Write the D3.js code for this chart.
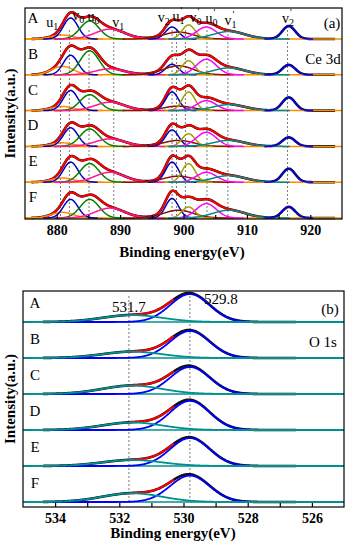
<!DOCTYPE html>
<html>
<head>
<meta charset="utf-8">
<script src="https://cdn.jsdelivr.net/npm/d3@7"></script>
<style>
  body { margin: 0; background: #fff; }
  svg { font-family: "Liberation Serif", "Times New Roman", serif; }
</style>
</head>
<body>
<div id="chart"></div>
<script>
// Samples shared by both panels
const samples = ["A", "B", "C", "D", "E", "F"];

// Ce 3d components: name, subscript, prime
const ceNames = ["u", "v", "u", "v", "v", "u", "v", "u", "v", "v"];
const ceSubs = ["1", "0", "0", "1", "2", "1", "0", "0", "1", "2"];
const cePrime = [false, false, false, false, false, true, true, true, true, true];
const ceLabelX = [879.3, 883.4, 885.8, 889.7, 896.9, 899.2, 901.9, 904.4, 907.4, 916.5];
const ceLabelDy = [0, -7, -6, 0, -5, -6, -5, -4, -2, -4];
const ceMarks = [880.6, 882.0, 885.1, 889.0, 898.2, 898.9, 900.3, 903.7, 907.0, 916.4];
const ceCenters = [880.9, 882.2, 885.2, 888.4, 898.2, 899.2, 900.8, 903.6, 907.2, 916.6];
const ceFwhm = [4.0, 2.7, 3.5, 5.5, 2.4, 5.5, 2.4, 3.7, 6.0, 2.4];
const ceColors = ["#ff8c00", "#0000c0", "#008000", "#ff1493", "#0000c0", "#8b1010",
                  "#a0a000", "#ff00ff", "#008b8b", "#0000ff"];
const ceHeights = {
  A: [0.13, 0.70, 0.60, 0.33, 0.40, 0.23, 0.47, 0.40, 0.25, 0.43],
  B: [0.28, 0.65, 0.80, 0.20, 0.35, 0.30, 0.47, 0.52, 0.23, 0.33],
  C: [0.14, 0.67, 0.53, 0.28, 0.62, 0.15, 0.62, 0.33, 0.20, 0.44],
  D: [0.12, 0.62, 0.58, 0.25, 0.55, 0.20, 0.42, 0.47, 0.20, 0.30],
  E: [0.14, 0.67, 0.62, 0.33, 0.67, 0.20, 0.62, 0.33, 0.22, 0.45],
  F: [0.19, 0.62, 0.62, 0.33, 0.65, 0.26, 0.37, 0.48, 0.26, 0.37]
};
const ceTicks = [880, 890, 900, 910, 920];

// O 1s components: lattice O, surface O
const oMarks = [531.7, 529.8];
const oCenters = [529.8, 531.6];
const oFwhm = [1.45, 2.2];
const oColors = ["#0000ff", "#009090"];
const oHeights = {
  A: [0.93, 0.23],
  B: [0.90, 0.21],
  C: [0.90, 0.28],
  D: [0.97, 0.25],
  E: [0.93, 0.20],
  F: [0.88, 0.29]
};
const oTicks = [534, 532, 530, 528, 526];

const W = 355, H = 550;
const svg = d3.select("#chart").append("svg").attr("width", W).attr("height", H);

const gauss = (x, c, w, h) => h * Math.exp(-4 * Math.LN2 * (x - c) * (x - c) / (w * w));

function drawPanel(cfg) {
  const x = d3.scaleLinear().domain(cfg.domain).range([cfg.left, cfg.right]);
  const row = d3.scalePoint().domain(samples).range(cfg.rows);
  const unit = 30;
  const g = svg.append("g");
  const lo = Math.min(...cfg.domain), hi = Math.max(...cfg.domain);

  // dashed guides
  cfg.marks.forEach(m => {
    g.append("line")
      .attr("x1", x(m)).attr("x2", x(m))
      .attr("y1", cfg.markTop).attr("y2", cfg.rows[1])
      .attr("stroke", "#555").attr("stroke-width", 0.8).attr("stroke-dasharray", "2,2");
  });

  samples.forEach(s => {
    const base = row(s);
    const y = d3.scaleLinear().domain([0, 1]).range([base, base - unit]);
    const hs = cfg.heights[s];
    const line = d3.line().x(d => x(d[0])).y(d => y(d[1]));
    const sumAt = v => d3.sum(cfg.centers, (c, i) => gauss(v, c, cfg.fwhm[i], hs[i]));
    const step = (hi - lo) / 600;

    // measured data (black)
    const dataX = d3.range(cfg.dataRange[0], cfg.dataRange[1], step);
    g.append("path").datum(dataX.map(v => [v, sumAt(v)]))
      .attr("d", line).attr("fill", "none").attr("stroke", "#111")
      .attr("stroke-width", 2.6);

    // baseline
    g.append("line").attr("x1", cfg.left).attr("x2", cfg.right)
      .attr("y1", base).attr("y2", base)
      .attr("stroke", cfg.baseColor).attr("stroke-width", 1.5);

    // fit envelope (red)
    cfg.redRanges.forEach(r => {
      const rx = d3.range(r[0], r[1], step);
      g.append("path").datum(rx.map(v => [v, sumAt(v)]))
        .attr("d", line).attr("fill", "none").attr("stroke", "#ff0000")
        .attr("stroke-width", 2);
    });

    // components
    cfg.centers.forEach((c, i) => {
      const a = Math.max(lo, c - cfg.fwhm[i] * cfg.span);
      const b = Math.min(hi, c + cfg.fwhm[i] * cfg.span);
      const cx = d3.range(a, b, step);
      g.append("path").datum(cx.map(v => [v, gauss(v, c, cfg.fwhm[i], hs[i])]))
        .attr("d", line).attr("fill", "none").attr("stroke", cfg.colors[i])
        .attr("stroke-width", cfg.compWidth);
    });

    g.append("text").attr("x", cfg.letterX).attr("y", base - cfg.letterUp)
      .attr("font-size", 15).attr("text-anchor", "middle").text(s);
  });

  // frame
  g.append("rect").attr("x", cfg.left).attr("y", cfg.top)
    .attr("width", cfg.right - cfg.left).attr("height", cfg.bottom - cfg.top)
    .attr("fill", "none").attr("stroke", "#000").attr("stroke-width", 1.2);

  // x axis, inward ticks
  const minor = d3.range(lo, hi + 1e-6, cfg.minorStep).filter(v => v > lo && v < hi);
  const ax = g.append("g").attr("transform", `translate(0,${cfg.bottom})`)
    .call(d3.axisBottom(x).tickValues(minor).tickSizeInner(-4).tickSizeOuter(0)
      .tickFormat(v => cfg.ticks.includes(v) ? v : ""));
  ax.select(".domain").remove();
  ax.selectAll("line").attr("stroke-width", 1.2);
  ax.selectAll("text").attr("font-family", "Liberation Serif").attr("font-weight", "bold")
    .attr("font-size", 14).attr("dy", "0.95em").attr("fill", "#000");

  g.append("text").attr("x", cfg.titleX).attr("y", cfg.titleY)
    .attr("text-anchor", "middle").attr("font-weight", "bold").attr("font-size", 15)
    .text("Binding energy(eV)");

  g.append("text")
    .attr("transform", `translate(15,${(cfg.top + cfg.bottom) / 2}) rotate(-90)`)
    .attr("text-anchor", "middle").attr("font-weight", "bold").attr("font-size", 15)
    .text("Intensity(a.u.)");

  return { x, g };
}

// Panel (a): Ce 3d
const pa = drawPanel({
  domain: [875, 925], left: 25, right: 342, top: 8, bottom: 219,
  rows: [39, 218], marks: ceMarks, markTop: 30,
  centers: ceCenters, fwhm: ceFwhm, colors: ceColors, heights: ceHeights,
  dataRange: [876, 924], redRanges: [[877.5, 894], [894.5, 912]],
  baseColor: "#ff8c00", letterX: 33, letterUp: 16, span: 1.6, compWidth: 1.5,
  ticks: ceTicks, minorStep: 5, titleX: 182, titleY: 257
});

// peak labels for (a)
ceNames.forEach((n, i) => {
  const t = pa.g.append("text").attr("x", pa.x(ceLabelX[i])).attr("y", 27 + ceLabelDy[i])
    .attr("font-size", 14).attr("text-anchor", "middle");
  t.append("tspan").text(n);
  t.append("tspan").attr("font-size", 10).attr("dy", 3).text(ceSubs[i]);
  if (cePrime[i]) t.append("tspan").attr("font-size", 10).attr("dy", -10).attr("dx", -4).text("'");
});
pa.g.append("text").attr("x", 332).attr("y", 28).attr("font-size", 15)
  .attr("text-anchor", "middle").text("(a)");
pa.g.append("text").attr("x", 323).attr("y", 64).attr("font-size", 15)
  .attr("text-anchor", "middle").text("Ce 3d");

// Panel (b): O 1s
const pb = drawPanel({
  domain: [535, 525], left: 23, right: 344, top: 291, bottom: 507,
  rows: [322, 502], marks: oMarks, markTop: 296,
  centers: oCenters, fwhm: oFwhm, colors: oColors, heights: oHeights,
  dataRange: [526.5, 534.4], redRanges: [[530.3, 531.7]],
  baseColor: "#009090", letterX: 35, letterUp: 14, span: 3, compWidth: 1.8,
  ticks: oTicks, minorStep: 1, titleX: 173, titleY: 538
});
pb.g.append("text").attr("x", pb.x(oMarks[0])).attr("y", 312).attr("font-size", 15)
  .attr("text-anchor", "middle").text("531.7");
pb.g.append("text").attr("x", pb.x(oMarks[1]) + 31).attr("y", 304).attr("font-size", 15)
  .attr("text-anchor", "middle").text("529.8");
pb.g.append("text").attr("x", 330).attr("y", 314).attr("font-size", 15)
  .attr("text-anchor", "middle").text("(b)");
pb.g.append("text").attr("x", 323).attr("y", 347).attr("font-size", 15)
  .attr("text-anchor", "middle").text("O 1s");
</script>
</body>
</html>
